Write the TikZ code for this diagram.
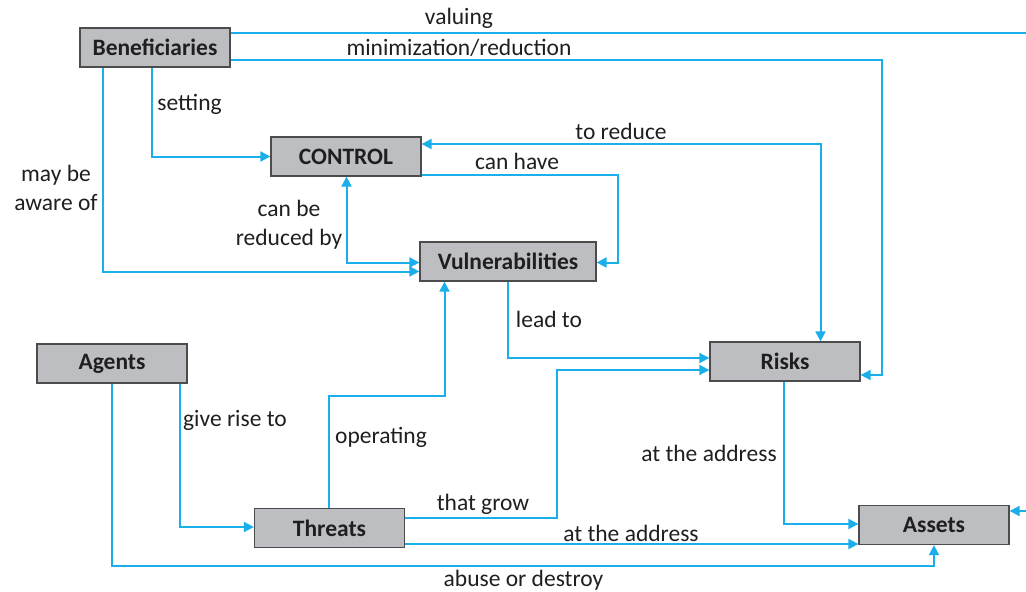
\documentclass[tikz,border=0pt]{standalone}
\usepackage{fontspec}
\setmainfont{Carlito}
\usetikzlibrary{arrows.meta}
\definecolor{cyanline}{HTML}{1AAEEB}
\definecolor{boxgray}{HTML}{BDBEC1}
\tikzstyle{concept}=[draw=black!70, fill=boxgray, line width=1.3pt, minimum width=150pt, minimum height=39pt, text=black!88, font=\bfseries\fontsize{23.5}{28}\selectfont]
\tikzstyle{rel}=[draw=cyanline, line width=2pt, -{Triangle[length=10pt, width=10pt]}]
\tikzstyle{birel}=[rel, {Triangle[length=10pt, width=10pt]}-{Triangle[length=10pt, width=10pt]}]
\tikzstyle{tag}=[inner sep=0pt, text=black!88, align=center, font=\fontsize{23.5}{29}\selectfont]

\begin{document}
\begin{tikzpicture}[x=1pt, y=-1pt]
                \useasboundingbox (0,0) rectangle (1026,592);
                \clip (0,0) rectangle (1026,592);
                \node[concept] (ben) at (155,47.5) {Beneficiaries};
                \node[concept] (ctl) at (346,156.5) {CONTROL};
                \node[concept, minimum width=176pt] (vul) at (508,261.5) {Vulnerabilities};
                \node[concept] (agt) at (112,363.5) {Agents};
                \node[concept] (rsk) at (785,361.5) {Risks};
                \node[concept] (thr) at (329.5,528) {Threats};
                \node[concept] (ast) at (934,525) {Assets};
                \node[tag] (val) at (459,18) {valuing};
                \node[tag] (min) at (459,48) {minimization/reduction};
                \node[tag] (set) at (189.5,104) {setting};
                \node[tag] (awr) at (56,188) {may be\\aware of};
                \node[tag] (red) at (621,131) {to reduce};
                \node[tag] (hav) at (517,161) {can have};
                \node[tag] (rby) at (289,225) {can be\\reduced by};
                \node[tag] (lea) at (549,319) {lead to};
                \node[tag] (gvr) at (235,420) {give rise to};
                \node[tag] (opr) at (381,437) {operating};
                \node[tag] (grw) at (483,504) {that grow};
                \node[tag] (ad1) at (709,453) {at the address};
                \node[tag] (ad2) at (631,533) {at the address};
                \node[tag] (abu) at (523.5,580) {abuse or destroy};
                \coordinate (rim1) at (1040,32.5);
                \coordinate (rim2) at (1040,511);
                \draw[rel] (ben.east |- 0,32.5) -- (rim1) -- (rim2) -- (ast.east |- 0,511);
                \draw[rel] (ben.east |- 0,60) -| (882,375) -- (rsk.east |- 0,375);
                \draw[rel] (ben.south -| 152,0) |- (ctl.west);
                \draw[rel] (ben.south -| 103,0) |- (vul.west |- 0,271.5);
                \draw[birel] (ctl.east |- 0,144) -| (rsk.north -| 820.5,0);
                \draw[rel] (ctl.east |- 0,174.5) -| (618,262.5) -- (vul.east |- 0,262.5);
                \draw[birel] (ctl.south -| 346.5,0) |- (vul.west |- 0,262.5);
                \draw[rel] (vul.south -| 508,0) |- (rsk.west |- 0,358);
                \draw[rel] (thr.north -| 329,0) |- (444.5,395.5) -- (vul.south -| 444.5,0);
                \draw[rel] (thr.east |- 0,517.5) -| (556.5,370) -- (rsk.west |- 0,370);
                \draw[rel] (thr.east |- 0,544) -- (ast.west |- 0,544);
                \draw[rel] (rsk.south -| 784,0) |- (ast.west |- 0,524);
                \draw[rel] (agt.south -| 180,0) |- (thr.west |- 0,527);
                \draw[rel] (agt.south -| 112,0) |- (934,566) -- (ast.south);
            \end{tikzpicture}
\end{document}
